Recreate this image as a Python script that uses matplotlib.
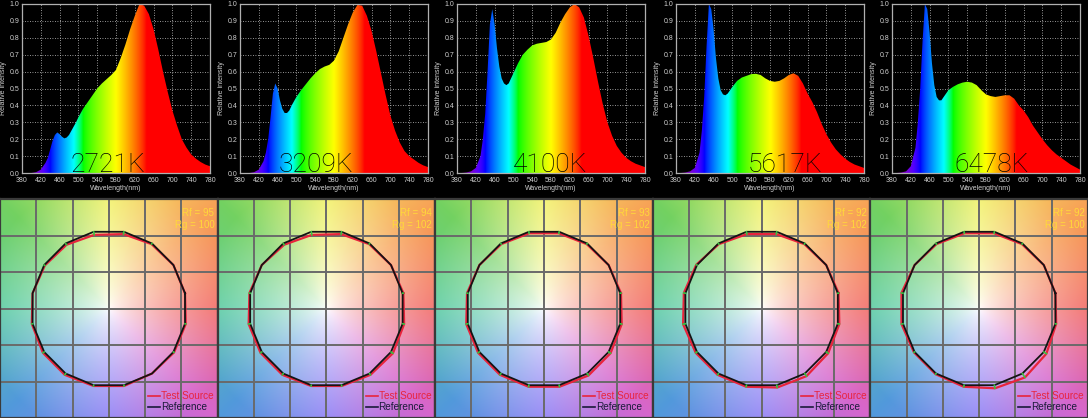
import numpy as np
import matplotlib
matplotlib.use('Agg')
import matplotlib.pyplot as plt
from matplotlib.patches import Polygon

# ---------------- data ----------------
wavelengths = [380, 390, 400, 410, 420, 430, 435, 440, 445, 450, 455, 460, 465, 470,
               475, 480, 485, 490, 495, 500, 510, 520, 530, 540, 550, 560, 570, 580,
               590, 600, 610, 620, 630, 640, 650, 660, 670, 680, 690, 700, 710, 720,
               730, 740, 750, 760, 770, 780]

spec_2721 = [0, 0, 0, 0.005, 0.02, 0.06, 0.09, 0.14, 0.19, 0.225, 0.24, 0.23, 0.215, 0.205,
             0.21, 0.225, 0.25, 0.275, 0.30, 0.33, 0.38, 0.42, 0.46, 0.50, 0.53, 0.555, 0.58, 0.61,
             0.68, 0.76, 0.85, 0.93, 1.0, 0.99, 0.94, 0.85, 0.73, 0.60, 0.48, 0.37, 0.28, 0.20,
             0.15, 0.11, 0.085, 0.065, 0.05, 0.04]
spec_3209 = [0, 0, 0, 0.005, 0.02, 0.07, 0.12, 0.20, 0.33, 0.47, 0.53, 0.50, 0.43, 0.38,
             0.355, 0.355, 0.37, 0.40, 0.425, 0.45, 0.49, 0.525, 0.56, 0.59, 0.615, 0.63, 0.64, 0.665,
             0.72, 0.80, 0.88, 0.95, 0.995, 0.99, 0.93, 0.84, 0.72, 0.59, 0.46, 0.34, 0.25, 0.18,
             0.13, 0.10, 0.08, 0.06, 0.045, 0.035]
spec_4100 = [0, 0, 0.003, 0.01, 0.03, 0.10, 0.20, 0.35, 0.60, 0.88, 0.97, 0.88, 0.74, 0.63,
             0.56, 0.53, 0.52, 0.53, 0.56, 0.59, 0.65, 0.70, 0.73, 0.755, 0.765, 0.77, 0.775, 0.79,
             0.83, 0.89, 0.94, 0.98, 1.0, 0.98, 0.92, 0.81, 0.68, 0.54, 0.41, 0.30, 0.22, 0.16,
             0.12, 0.09, 0.07, 0.055, 0.045, 0.035]
spec_5617 = [0, 0, 0.003, 0.01, 0.03, 0.12, 0.25, 0.45, 0.75, 1.0, 0.97, 0.85, 0.68, 0.56,
             0.49, 0.465, 0.46, 0.47, 0.49, 0.51, 0.545, 0.565, 0.575, 0.585, 0.587, 0.58, 0.56, 0.545,
             0.54, 0.545, 0.56, 0.58, 0.59, 0.575, 0.53, 0.47, 0.42, 0.36, 0.29, 0.23, 0.18, 0.14,
             0.11, 0.085, 0.065, 0.05, 0.04, 0.03]
spec_6478 = [0, 0, 0.003, 0.01, 0.04, 0.15, 0.30, 0.50, 0.78, 1.0, 0.97, 0.83, 0.65, 0.52,
             0.45, 0.43, 0.43, 0.45, 0.47, 0.49, 0.51, 0.525, 0.535, 0.54, 0.535, 0.52, 0.49, 0.465,
             0.455, 0.45, 0.455, 0.46, 0.46, 0.44, 0.40, 0.37, 0.33, 0.28, 0.24, 0.20, 0.165, 0.135,
             0.11, 0.09, 0.07, 0.05, 0.035, 0.02]

cct_labels = ["2721K", "3209K", "4100K", "5617K", "6478K"]
cct_label_x = [563, 542, 578, 611, 592]
x_ticks = [380, 420, 460, 500, 540, 580, 620, 660, 700, 740, 780]
y_ticks = [0.0, 0.1, 0.2, 0.3, 0.4, 0.5, 0.6, 0.7, 0.8, 0.9, 1.0]

rf_values = [95, 94, 93, 92, 92]
rg_values = [100, 102, 102, 102, 100]

# 16 hue bins (bin centres at 11.25 + 22.5*k degrees), test radius relative to reference
ref_radius = 1.0
test_radii_2721 = [1.0, 1.0, 0.99, 0.97, 0.96, 0.98, 0.99, 1.0, 1.01, 1.02, 1.02, 1.01, 1.01, 1.0, 1.01, 1.01]
test_radii_3209 = [1.01, 1.0, 0.99, 0.97, 0.96, 0.98, 1.0, 1.01, 1.02, 1.02, 1.02, 1.01, 1.01, 1.02, 1.03, 1.02]
test_radii_4100 = [1.01, 1.0, 0.99, 0.98, 0.98, 0.99, 1.0, 1.01, 1.02, 1.02, 1.02, 1.02, 1.02, 1.03, 1.03, 1.02]
test_radii_5617 = [1.01, 1.0, 0.99, 0.97, 0.97, 0.99, 1.01, 1.02, 1.03, 1.02, 1.02, 1.02, 1.03, 1.04, 1.03, 1.02]
test_radii_6478 = [1.0, 1.0, 0.99, 0.98, 0.98, 0.99, 1.0, 1.02, 1.02, 1.01, 1.01, 1.02, 1.04, 1.06, 1.04, 1.01]

spectra = [spec_2721, spec_3209, spec_4100, spec_5617, spec_6478]
test_radii = [test_radii_2721, test_radii_3209, test_radii_4100, test_radii_5617, test_radii_6478]

# ---------------- helpers ----------------
def wl_to_rgb(w):
    w = np.asarray(w, dtype=float)
    a = [380, 440, 490, 510, 580, 645, 780]
    r = np.interp(w, a, [1, 0, 0, 0, 1, 1, 1])
    g = np.interp(w, a, [0, 0, 1, 1, 1, 0, 0])
    b = np.interp(w, a, [1, 1, 1, 0, 0, 0, 0])
    f = np.interp(w, [380, 425, 780], [0.35, 1.0, 1.0])
    rgb = np.stack([r, g, b], axis=-1) * f[..., None]
    return np.clip(rgb, 0, 1) ** 0.8


def cvg_background(lim, n=240):
    xs = np.linspace(-lim, lim, n)
    X, Y = np.meshgrid(xs, xs)
    ang = (np.degrees(np.arctan2(Y, X)) + 360) % 360
    rad = np.hypot(X, Y)
    anchors = [0, 45, 90, 135, 180, 225, 270, 315, 360]
    cr = [0.95, 0.97, 0.95, 0.45, 0.36, 0.32, 0.56, 0.84, 0.95]
    cg = [0.42, 0.64, 0.95, 0.82, 0.80, 0.60, 0.50, 0.40, 0.42]
    cb = [0.40, 0.34, 0.42, 0.38, 0.64, 0.86, 0.96, 0.80, 0.40]
    col = np.stack([np.interp(ang, anchors, cr), np.interp(ang, anchors, cg),
                    np.interp(ang, anchors, cb)], axis=-1)
    t = np.clip(rad / 1.65, 0, 1) ** 0.7
    img = 1 - t[..., None] * (1 - col)
    return img


# ---------------- figure ----------------
W, H = 1088, 418
fig = plt.figure(figsize=(W / 100, H / 100), dpi=100, facecolor='black')

top_lefts = [22, 240, 457, 676, 892]
wl = np.array(wavelengths, dtype=float)
grad_w = np.linspace(380, 780, 400)
grad = wl_to_rgb(grad_w)[None, :, :]

for i in range(5):
    ax = fig.add_axes([top_lefts[i] / W, 1 - 173 / H, 188 / W, 169 / H])
    ax.set_facecolor('black')
    vals = np.array(spectra[i], dtype=float)
    ax.set_xlim(380, 780)
    ax.set_ylim(0, 1.0)
    ax.set_axisbelow(True)
    ax.grid(True, color='#c8c8c8', linewidth=0.6, linestyle=(0, (1, 2)))
    verts = np.column_stack([np.r_[wl, wl[-1], wl[0]], np.r_[vals, 0, 0]])
    poly = Polygon(verts, closed=True, facecolor='none', edgecolor='none')
    ax.add_patch(poly)
    im = ax.imshow(grad, extent=[380, 780, 0, 1], aspect='auto', zorder=2,
                   interpolation='bilinear')
    im.set_clip_path(poly)
    ax.set_xticks(x_ticks)
    ax.set_yticks(y_ticks)
    ax.set_yticklabels([f"{v:.1f}" for v in y_ticks])
    ax.tick_params(axis='x', colors='#d0d0d0', labelsize=5, length=0, pad=3)
    ax.tick_params(axis='y', colors='#d0d0d0', labelsize=5, length=0, pad=2)
    for lab in ax.get_xticklabels() + ax.get_yticklabels():
        lab.set_fontfamily('Liberation Sans')
    for s in ax.spines.values():
        s.set_color('#b0b0b0')
        s.set_linewidth(0.9)
    ax.set_xlabel('Wavelength(nm)', color='#d0d0d0', fontsize=5,
                  family='Liberation Sans', labelpad=0.3)
    ax.set_ylabel('Relative intensity', color='#d0d0d0', fontsize=5,
                  family='Liberation Sans', labelpad=2)
    ax.text(cct_label_x[i], 0.008, cct_labels[i], ha='center', va='baseline',
            fontsize=19, family='Roboto', fontweight='light', color='#000000',
            zorder=5)

# bottom row: colour vector graphics
L = 1.40
bg = cvg_background(L)
angles = np.deg2rad(11.25 + 22.5 * np.arange(16))
grid_pos = np.linspace(-L, L, 7)[1:-1]
pw = W / 5
for i in range(5):
    ax = fig.add_axes([i * pw / W, 0, pw / W, 219 / H])
    ax.imshow(bg, extent=[-L, L, -L, L], origin='lower', interpolation='bilinear',
              aspect='auto', zorder=0)
    ax.set_xlim(-L, L)
    ax.set_ylim(-L, L)
    ax.set_xticks([])
    ax.set_yticks([])
    for g in grid_pos:
        ax.axvline(g, color='#6a6a6a', linewidth=1.4, zorder=1)
        ax.axhline(g, color='#6a6a6a', linewidth=1.4, zorder=1)
    for s in ax.spines.values():
        s.set_color('#3a3a3a')
        s.set_linewidth(1.6)
    rr = np.full(16, ref_radius)
    tr = ref_radius * np.array(test_radii[i])
    rx, ry = rr * np.cos(angles), rr * np.sin(angles)
    tx, ty = tr * np.cos(angles), tr * np.sin(angles)
    ax.plot(np.r_[tx, tx[0]], np.r_[ty, ty[0]], color='#e8243c', linewidth=1.6, zorder=3)
    ax.plot(np.r_[rx, rx[0]], np.r_[ry, ry[0]], color='#141414', linewidth=1.3, zorder=4)
    for k in range(16):
        ax.plot([rx[k], tx[k]], [ry[k], ty[k]], color='#3cc040', linewidth=1.2, zorder=5)
    ax.text(0.985, 0.935, f"Rf = {rf_values[i]}", transform=ax.transAxes, ha='right',
            va='center', fontsize=7, family='Liberation Sans', color='#ffd83a', zorder=6)
    ax.text(0.985, 0.88, f"Rg = {rg_values[i]}", transform=ax.transAxes, ha='right',
            va='center', fontsize=7, family='Liberation Sans', color='#ffd83a', zorder=6)
    ax.plot([0.68, 0.735], [0.1, 0.1], transform=ax.transAxes, color='#e8243c',
            linewidth=1.2, zorder=6)
    ax.plot([0.68, 0.735], [0.05, 0.05], transform=ax.transAxes, color='#1a1a3a',
            linewidth=1.2, zorder=6)
    ax.text(0.74, 0.1, 'Test Source', transform=ax.transAxes, ha='left', va='center',
            fontsize=7.2, family='Liberation Sans', color='#e8243c', zorder=6)
    ax.text(0.74, 0.05, 'Reference', transform=ax.transAxes, ha='left', va='center',
            fontsize=7.2, family='Liberation Sans', color='#1a1a3a', zorder=6)

fig.savefig('out.png', dpi=100, facecolor='black')
